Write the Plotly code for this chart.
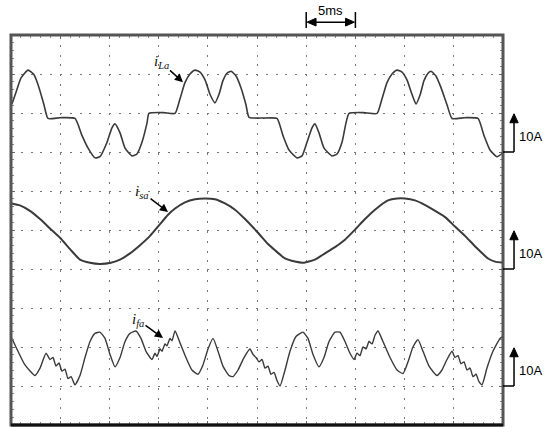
import plotly.graph_objects as go

# --- data (time in ms, current in A relative to each trace's marker) ---
t_la = [0.1, 0.51, 1.02, 1.73, 2.34, 2.85, 3.35, 3.76, 5.0, 6.5, 7.22, 7.83, 8.54, 9.04, 9.76,
        10.26, 10.57, 11.08, 11.59, 12.3, 12.8, 13.31, 13.82, 14.02, 15.5, 16.67, 17.17, 17.68,
        18.19, 18.7, 19.21, 19.72, 20.22, 20.73, 21.14, 21.54, 21.95, 22.36, 22.87, 23.37, 23.88,
        24.19, 25.6, 27.03, 27.64, 28.25, 29.07, 29.57, 30.08, 30.59, 30.89, 31.3, 31.81, 32.62,
        33.13, 33.64, 34.04, 34.35, 35.8, 37.2, 37.7, 38.21, 38.72, 39.23, 39.74, 40.24, 40.75,
        41.16, 41.57, 41.97, 42.38, 42.68, 43.19, 43.7, 44.31, 44.82, 46.1, 47.46, 48.07, 48.68,
        49.39, 50.0]
i_la = [12.3, 15.3, 19.0, 21.0, 19.8, 16.5, 12.1, 8.6, 8.8, 8.6, 4.2, 1.0, -1.5, -1.2, 2.5,
        6.2, 7.2, 4.9, 1.0, -1.0, -0.5, 2.5, 7.4, 9.9, 10.1, 9.9, 13.6, 17.8,
        20.0, 21.0, 20.5, 18.5, 14.8, 12.6, 14.8, 18.3, 20.2, 20.7, 19.5, 16.5, 12.1,
        8.9, 8.7, 8.6, 4.2, 0.5, -1.5, -1.0, 2.5, 6.2, 7.2, 4.9, 1.0, -1.0,
        -0.5, 2.5, 7.4, 9.9, 10.1, 9.9, 13.6, 17.8, 20.0, 21.0, 20.5, 18.5, 14.8,
        12.3, 14.6, 18.3, 20.2, 20.7, 19.5, 16.5, 12.1, 8.6, 8.8, 8.6, 4.2, 0.5,
        -1.2, -0.2]

t_sa = [0.1, 0.91, 1.93, 2.95, 3.96, 4.98, 6.0, 7.01, 8.03, 9.04, 10.16, 11.08, 12.09, 13.11,
        14.13, 15.14, 15.96, 16.67, 17.68, 18.7, 19.72, 20.73, 21.75, 22.76, 23.78, 25.1, 26.12,
        26.83, 27.85, 28.86, 29.67, 30.89, 31.91, 32.93, 33.94, 34.96, 35.98, 36.99, 38.31, 39.23,
        40.04, 41.06, 41.77, 42.89, 44.11, 45.12, 46.14, 47.36, 48.48, 49.19, 50.0]
i_sa = [16.8, 16.3, 14.9, 12.8, 10.4, 8.0, 5.1, 2.4, 1.6, 1.3, 1.6, 2.4, 4.0, 6.1,
        8.5, 11.5, 13.9, 15.5, 17.1, 17.9, 18.1, 17.9, 16.8, 15.2, 12.8, 9.3, 6.4,
        4.8, 2.7, 1.9, 1.6, 2.4, 4.0, 5.6, 7.5, 10.1, 12.8, 15.2, 17.6, 18.1,
        18.1, 17.6, 16.8, 15.2, 13.3, 10.9, 8.5, 5.3, 2.7, 1.9, 1.6]

t_fa = [0.1, 0.71, 1.42, 2.44, 2.95, 3.56, 3.96, 4.27, 4.57, 4.88, 5.18, 5.49, 5.79, 6.1, 6.5,
        7.01, 7.52, 8.03, 8.54, 9.04, 9.55, 10.06, 10.57, 11.08, 11.59, 12.09, 12.7, 13.21,
        13.72, 14.33, 14.63, 14.84, 15.14, 15.35, 15.65, 15.85, 16.16, 16.36, 16.67, 17.17,
        17.78, 18.39, 19.0, 19.51, 20.02, 20.53, 21.04, 21.54, 22.15, 22.56, 23.07, 23.68,
        24.29, 24.59, 24.9, 25.2, 25.51, 25.81, 26.12, 26.42, 26.73, 27.03, 27.34, 27.85,
        28.35, 28.96, 29.67, 30.18, 30.69, 31.3, 31.81, 32.32, 32.93, 33.43, 33.94, 34.45,
        34.86, 35.16, 35.47, 35.77, 36.08, 36.38, 36.69, 36.99, 37.3, 37.8, 38.52, 39.23,
        39.84, 40.35, 40.85, 41.36, 41.87, 42.48, 43.29, 43.8, 44.31, 44.82, 45.12, 45.43,
        45.73, 46.04, 46.34, 46.65, 46.95, 47.26, 47.56, 47.87, 48.37, 48.98, 49.7, 50.0]
i_fa = [12.2, 8.9, 5.4, 2.7, 4.6, 8.4, 6.8, 7.3, 5.1, 5.9, 3.8, 4.3, 1.9, 2.4, 0.3,
        2.7, 7.3, 11.4, 13.5, 13.8, 12.2, 8.1, 4.9, 7.3, 11.4, 13.5, 14.1, 12.2,
        8.9, 6.8, 8.4, 7.6, 9.5, 8.9, 10.8, 10.3, 12.2, 11.6, 14.1, 11.1,
        7.3, 4.1, 3.0, 5.4, 9.5, 12.2, 8.9, 5.1, 2.7, 2.4, 4.1, 7.3,
        9.5, 8.1, 7.3, 6.2, 6.8, 4.6, 5.1, 3.0, 3.5, 1.4, 0.0, 4.1,
        8.9, 12.7, 13.8, 12.2, 8.1, 4.9, 7.3, 11.4, 13.8, 13.8, 11.4, 8.4,
        6.8, 8.4, 7.8, 10.0, 9.5, 11.4, 10.8, 13.0, 14.1, 11.4, 7.3, 4.1,
        3.2, 6.2, 10.0, 11.9, 8.9, 5.1, 2.7, 4.1, 6.8, 8.9, 7.3, 7.8,
        5.7, 6.2, 4.1, 4.6, 2.4, 3.0, 1.1, 0.3, 4.6, 8.9, 12.2, 12.7]

# marker (zero) level of each channel on the screen, 10 A per division
offsets = {'la': 70, 'sa': 40, 'fa': 10}
time_div = 5     # ms per division
amp_div = 10     # A per division

trace_col = '#3a3a3a'

fig = go.Figure()
for t, i, key, w in [(t_la, i_la, 'la', 1.6), (t_sa, i_sa, 'sa', 2.0), (t_fa, i_fa, 'fa', 1.4)]:
    fig.add_trace(go.Scatter(x=t, y=[v + offsets[key] for v in i], mode='lines',
                             line=dict(color=trace_col, width=w, shape='spline', smoothing=0.5),
                             showlegend=False, hoverinfo='skip'))

axis_style = dict(showticklabels=False, showgrid=True, gridcolor='#777', gridwidth=1.2,
                  griddash='2px,7.8px', zeroline=False, showline=False,
                  ticks='inside', ticklen=4, tickcolor='#666', mirror='ticks',
                  minor=dict(ticks='inside', ticklen=3, tickcolor='#888', showgrid=False))
fig.update_xaxes(range=[0, 50], dtick=time_div, minor_dtick=1, **axis_style)
fig.update_yaxes(range=[0, 100], dtick=amp_div, minor_dtick=2, **axis_style)

# screen frame
fig.add_shape(type='rect', xref='paper', yref='paper', x0=0, x1=1, y0=0, y1=1,
              line=dict(color='#555', width=3))
fig.add_shape(type='line', xref='paper', yref='paper', x0=0, x1=1, y0=0, y1=0,
              line=dict(color='#111', width=3))

# trace labels with pointer arrows
lab_font = dict(family='Liberation Serif', size=15, color='#111')
for head_x, head_y, ax, ay, sub in [(17.48, 87.9, -22, -20, 'La'),
                                    (15.96, 54.6, -26, -20, 'sa'),
                                    (15.45, 22.3, -25, -18, 'fa')]:
    fig.add_annotation(x=head_x, y=head_y, ax=ax, ay=ay, text='<i>i</i><sub><i>%s</i></sub>' % sub,
                       font=lab_font, showarrow=True, arrowhead=2, arrowsize=1.1,
                       arrowwidth=1.5, arrowcolor='#000', standoff=0)

black_line = dict(color='#000', width=1.5)

# 5 ms time-base marker (above the screen)
x0, x1 = 30, 30 + time_div
for xv in [x0, x1]:
    fig.add_shape(type='line', xref='x', yref='paper', x0=xv, x1=xv, y0=1.018, y1=1.059, line=black_line)
fig.add_shape(type='line', xref='x', yref='paper', x0=x0 + 0.5, x1=x1 - 0.5, y0=1.033, y1=1.033,
              line=black_line)
fig.add_shape(type='path', xref='x', yref='paper', fillcolor='#000', line=dict(color='#000', width=1),
              path='M %g,1.033 L %g,1.043 L %g,1.023 Z' % (x0 + 0.1, x0 + 1.0, x0 + 1.0))
fig.add_shape(type='path', xref='x', yref='paper', fillcolor='#000', line=dict(color='#000', width=1),
              path='M %g,1.033 L %g,1.043 L %g,1.023 Z' % (x1 - 0.1, x1 - 1.0, x1 - 1.0))
fig.add_annotation(x=(x0 + x1) / 2, y=1.062, xref='x', yref='paper', text='5ms', showarrow=False,
                   yanchor='middle', xanchor='center',
                   font=dict(family='Liberation Sans', size=13, color='#000'))

# 10 A scale markers for each channel (right of the screen)
mx = 1.0224
for key in ['la', 'sa', 'fa']:
    lvl = offsets[key]
    top = lvl + amp_div
    fig.add_shape(type='line', xref='paper', yref='y', x0=1.0, x1=mx, y0=lvl, y1=lvl, line=black_line)
    fig.add_shape(type='line', xref='paper', yref='y', x0=mx, x1=mx, y0=lvl, y1=top - 2, line=black_line)
    fig.add_shape(type='path', xref='paper', yref='y', fillcolor='#000', line=dict(color='#000', width=1),
                  path='M %g,%g L %g,%g L %g,%g Z' % (mx, top - 0.2, mx - 0.0085, top - 2.5,
                                                      mx + 0.0085, top - 2.5))
    fig.add_annotation(x=1.029, y=lvl + 4.1, xref='paper', yref='y', text='10A', showarrow=False,
                       xanchor='left', yanchor='middle',
                       font=dict(family='Liberation Sans', size=13, color='#000'))

fig.update_layout(width=550, height=434, margin=dict(l=11, r=47, t=35, b=9),
                  paper_bgcolor='white', plot_bgcolor='white')

fig.write_html("out.html", config={'displayModeBar': False},
               post_script="document.body.style.margin='0';")
